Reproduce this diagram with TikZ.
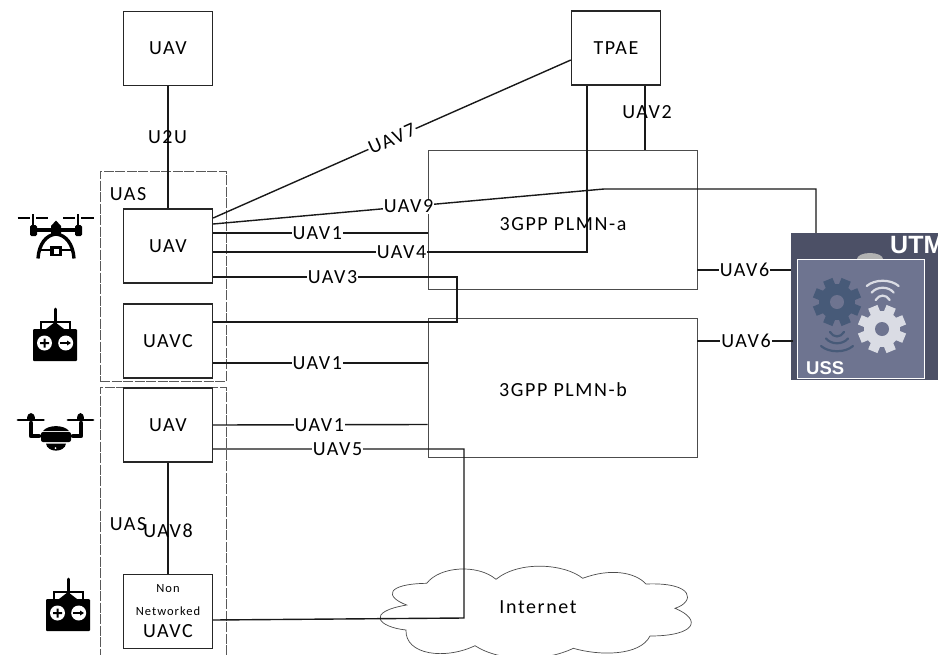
\documentclass[tikz,border=0pt]{standalone}
\usepackage{fontspec}
\setmainfont[LetterSpace=8]{Carlito}
\newfontfamily\ussfont{Liberation Sans}
\usetikzlibrary{positioning, calc}
\definecolor{utmdark}{HTML}{4C5066}
\definecolor{ussback}{HTML}{6E7490}
\definecolor{geardark}{HTML}{475A78}
\definecolor{gearlight}{HTML}{DADCE4}

\begin{document}
\begin{tikzpicture}[
  x=1pt, y=-1pt,
  block/.style={draw=black!85, line width=1.3pt, fill=white,
    minimum width=89pt, minimum height=74pt, inner sep=0pt,
    align=center, font=\fontsize{20}{24}\selectfont},
  plmn/.style={draw=black!70, line width=0.9pt, fill=white,
    minimum width=269pt, minimum height=139pt, inner sep=0pt},
  uasbox/.style={draw=black!65, line width=0.9pt, dash pattern=on 10pt off 1.5pt,
    minimum width=126pt, inner sep=0pt},
  link/.style={draw=black!90, line width=1.4pt},
  lab/.style={fill=white, inner sep=1pt, font=\fontsize{20}{24}\selectfont},
  plainlab/.style={inner sep=0pt, font=\fontsize{20}{24}\selectfont},
  remote/.pic={
    \fill[black, rounded corners=1pt] (-22,-16) rectangle (22,16);
    \draw[black, line width=1.2pt] (-14,-16) -- (-14,-23) -- (15,-23) -- (15,-16);
    \fill[black] (-9,-16) -- (0,-23) -- (9,-16) -- cycle;
    \draw[black, line width=3pt, line cap=round] (0,-36) -- (0,-16);
    \fill[white] (-10.5,-2) circle[radius=7.5] (10.7,-2) circle[radius=7.5];
    \fill[black] (-15,-3) rectangle (-6,-1) (-11.5,-6.5) rectangle (-9.5,2.5);
    \fill[black] (5,-3) rectangle (12,-1);
    \fill[black] (12,-4.5) -- (16,-2) -- (12,0.5) -- cycle;
  },
  gearicon/.pic={
    \foreach \a in {0,45,...,315}
      \fill[rotate=\a+22.5, pic actions] (-5,-24) rectangle (5,0);
    \fill[pic actions] (0,0) circle[radius=18];
    \fill[ussback] (0,0) circle[radius=7];
  }
]
\useasboundingbox (0,0) rectangle (938,654);
\clip (0,0) rectangle (938,654);

%% ── UAS groups ──
\node[uasbox, minimum height=210pt] (uasA) at (163,276) {};
\node[uasbox, minimum height=280pt] (uasB) at (163,527) {};
\node[plainlab] (uasAt) at (128,194) {UAS};
\node[plainlab] (uasBt) at (128,524) {UAS};

%% ── Entities ──
\node[block] (uavTop) at (168,48.5)  {UAV};
\node[block] (tpae)   at (616,48)    {TPAE};
\node[block] (uavA)   at (168,246)   {UAV};
\node[block] (uavC)   at (168,341)   {UAVC};
\node[block] (uavB)   at (168,425)   {UAV};
\node[block, font=\fontsize{12.5}{23}\selectfont] (uavN) at (168,611.5)
  {Non\\Networked\\[-1pt]{\fontsize{20}{23}\selectfont UAVC}};

\node[plmn] (plmnA) at (562.5,219.5) {};
\node[plmn] (plmnB) at (562.5,387.5) {};
\node[plainlab] (plmnAt) at (563,224) {3GPP PLMN-a};
\node[plainlab] (plmnBt) at (563,390) {3GPP PLMN-b};

%% ── Internet ──
\draw[draw=black!70, line width=0.7pt, fill=white]
  (406.7,605) .. controls (385,597) and (385,584) .. (426.7,583.3)
  .. controls (440,566) and (478,564) .. (496,579.3)
  .. controls (520,560) and (565,564) .. (582.7,578.3)
  .. controls (610,568) and (635,572) .. (646,584)
  .. controls (695,582) and (695,602) .. (675,608.3)
  .. controls (703,620) and (695,636) .. (650,636)
  .. controls (640,656) and (600,656) .. (573.3,648.3)
  .. controls (545,662) and (500,662) .. (475,645.7)
  .. controls (445,660) and (405,655) .. (406,630)
  .. controls (378,627) and (365,612) .. (406.7,605) -- cycle;
\node[plainlab] (internet) at (538,607) {Internet};

%% ── UTM ──
\node[fill=utmdark, minimum width=147pt, minimum height=147pt, inner sep=0pt] (utm) at (864.5,306.5) {};
\fill[gray!60] (870,259) ellipse[x radius=13, y radius=6];
\node[anchor=west, inner sep=0pt, text=white, font=\ussfont\bfseries\fontsize{25}{28}\selectfont] (utmt) at (890,245) {UTM};
\node[draw=white, fill=ussback, line width=0.7pt, minimum width=127pt, minimum height=119pt, inner sep=0pt] (uss) at (860.5,318.5) {};
\pic[geardark] at (837,302) {gearicon};
\pic[gearlight] at (882,329) {gearicon};
\foreach \w/\h in {16/0, 11/6.5, 7/14}
  \draw[gearlight, line width=2.2pt, line cap=round]
    (882.7-\w,286+\h) .. controls (882.7-\w/2,281+\h-\w/8) and (882.7+\w/2,281+\h-\w/8) .. (882.7+\w,286+\h);
\foreach \w/\h in {16/0, 11/-7.5, 7/-14}
  \draw[geardark, line width=2.2pt, line cap=round]
    (837-\w,346+\h) .. controls (837-\w/2,351+\h+\w/8) and (837+\w/2,351+\h+\w/8) .. (837+\w,346+\h);
\node[anchor=west, inner sep=0pt, text=white, font=\ussfont\bfseries\fontsize{18.5}{20}\selectfont] (usst) at (806,368) {USS};

%% ── Relationships ──
\draw[link] (uavTop.south) -- (uavA.north);
\node[plainlab] (u2u) at (167.5,137) {U2U};

\draw[link] ([yshift=28pt]uavA.east) -- node[lab, sloped, pos=.5]{UAV7} ([yshift=-12pt]tpae.west);

\coordinate (bendNine) at (604,189);
\draw[link] ([yshift=22pt]uavA.east) -- node[lab, pos=.5]{UAV9} (bendNine)
  -| ([xshift=-48.5pt]utm.north);

\draw[link] ([yshift=13pt]uavA.east) -- node[lab, pos=.486]{UAV1} ([yshift=-13.5pt]plmnA.west);

\draw[link] ([yshift=-6pt]uavA.east) -| node[lab, pos=.252]{UAV4} ([xshift=-29pt]tpae.south);

\coordinate (turnThree) at (457,300);
\draw[link] ([yshift=-31pt]uavA.east) -| node[lab, pos=.245]{UAV3} (turnThree)
  |- ([yshift=19pt]uavC.east);

\draw[link] ([yshift=-22pt]uavC.east) -- node[lab, pos=.486]{UAV1} ([yshift=24.5pt]plmnB.west);
\draw[link] (uavB.east) -- node[lab, pos=.495]{UAV1} ([yshift=-37pt]plmnB.west);

\coordinate (bendFive) at (464,618);
\draw[link] ([yshift=-24pt]uavB.east) -| node[lab, pos=.248]{UAV5} (bendFive)
  -- ([yshift=-8.5pt]uavN.east);

\draw[link] (uavB.south) -- (uavN.north);
\node[plainlab] (uavEight) at (168,531) {UAV8};

\draw[link] ([xshift=29pt]tpae.south) -- ([xshift=82.5pt]plmnA.north);
\node[plainlab] (uavTwo) at (647,112) {UAV2};

\draw[link] ([yshift=-50.5pt]plmnA.east) -- node[lab, pos=.505]{UAV6} ([yshift=36.5pt]utm.west);
\draw[link] ([yshift=46.5pt]plmnB.east) -- node[lab, pos=.51]{UAV6} ([yshift=-34.5pt,xshift=2pt]utm.west);

%% ── Icons ──
\pic at (55,345) {remote};
\pic at (68,615) {remote};

% quadcopter
\draw[black, line width=1.8pt] (17.5,218) -- (30,218) (36,218) -- (48,218)
  (63,218) -- (75,218) (81,218) -- (94,218);
\draw[black, line width=2pt] (33,214) -- (33,226) (78,214) -- (78,226);
\fill[black, rounded corners=1.5pt] (30,225) rectangle (37,236) (75,225) rectangle (82,236);
\fill[black] (36,228) rectangle (76,232);
\fill[black] (51,226) -- (56,220.5) -- (61,226) -- (61,234) -- (51,234) -- cycle;
\draw[black, line width=3.4pt] (38,258.5) .. controls (39,244) and (46,235) .. (56,234)
  .. controls (66,235) and (73,244) .. (74,258.5);
\draw[black, line width=2pt] (41,250) -- (71,250);
\fill[black] (50,246) rectangle (62,256);
\fill[white] (53.5,249) rectangle (58.5,253.5);

% second copter
\draw[black, line width=2.8pt, line cap=round] (18,420) -- (43.5,420) (68,420) -- (93,420);
\fill[black] (27,419) .. controls (27,411) and (34.5,411) .. (34.5,419) -- cycle;
\fill[black] (76.5,419) .. controls (76.5,411) and (84,411) .. (84,419) -- cycle;
\draw[black, line width=4.5pt, line cap=round, line join=round]
  (31,423) -- (31,436) -- (39,436) (81,423) -- (81,436) -- (73,436);
\fill[black, rounded corners=2pt] (41,432) rectangle (71,442);
\fill[black] (43,431) .. controls (48,424.5) and (64,424.5) .. (69,431) -- cycle;
\fill[black] (46,443.5) .. controls (47,453) and (65,453) .. (66,443.5) -- cycle;
\fill[white] (55.5,448) circle[radius=1];

\end{tikzpicture}
\end{document}
